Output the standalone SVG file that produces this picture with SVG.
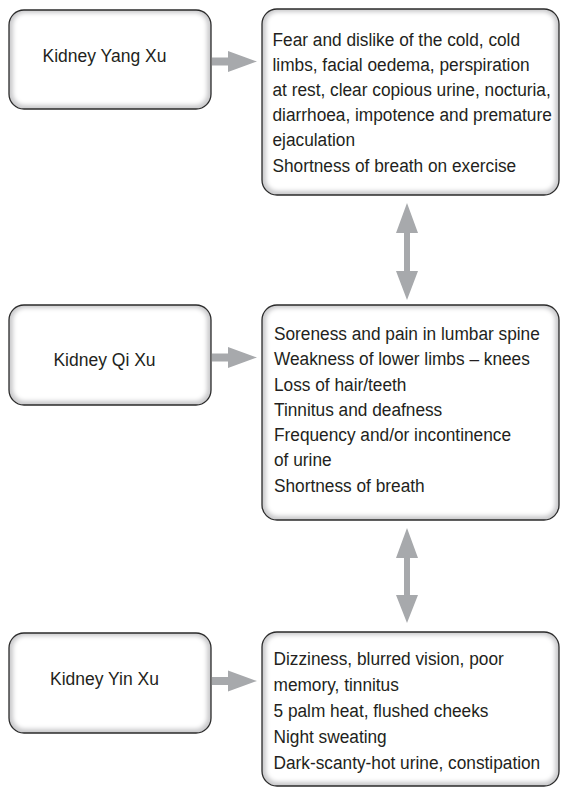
<svg xmlns="http://www.w3.org/2000/svg" width="562" height="790" viewBox="0 0 562 790">
  <defs>
    <filter id="soft" x="-5%" y="-5%" width="110%" height="110%">
      <feGaussianBlur stdDeviation="2"/>
    </filter>
  </defs>
  <style>
    .shade { fill: #c9c9cb; }
    .inner { fill: #ffffff; filter: url(#soft); }
    .edge { fill: none; stroke: #2b2b2b; stroke-width: 1.3; }
    .lbl { font-family: "Liberation Sans", Arial, sans-serif; font-size: 17.5px; fill: #231f20; text-anchor: middle; }
    .txt { font-family: "Liberation Sans", Arial, sans-serif; font-size: 18px; fill: #231f20; }
    .arrow { fill: #a7a9ac; }
  </style>

  <!-- Left column: pattern names -->
  <g id="yang">
    <rect class="shade" x="9" y="10" width="202" height="99" rx="15"/>
    <rect class="inner" x="13" y="13" width="194" height="92" rx="12"/>
    <rect class="edge" x="9" y="10" width="202" height="99" rx="15"/>
    <text class="lbl" x="104.5" y="61.5">Kidney Yang Xu</text>
  </g>
  <g id="qi">
    <rect class="shade" x="9" y="305" width="202" height="100" rx="15"/>
    <rect class="inner" x="13" y="308" width="194" height="93" rx="12"/>
    <rect class="edge" x="9" y="305" width="202" height="100" rx="15"/>
    <text class="lbl" x="104.5" y="366">Kidney Qi Xu</text>
  </g>
  <g id="yin">
    <rect class="shade" x="9" y="633" width="202" height="100" rx="15"/>
    <rect class="inner" x="13" y="636" width="194" height="93" rx="12"/>
    <rect class="edge" x="9" y="633" width="202" height="100" rx="15"/>
    <text class="lbl" x="104.5" y="685">Kidney Yin Xu</text>
  </g>

  <!-- Right column: symptom lists (text slightly condensed horizontally) -->
  <g id="yang-signs">
    <rect class="shade" x="262" y="9" width="297" height="186" rx="15"/>
    <rect class="inner" x="266" y="12" width="289" height="179" rx="12"/>
    <rect class="edge" x="262" y="9" width="297" height="186" rx="15"/>
    <g transform="translate(272.5 0) scale(0.96 1)">
      <text class="txt" x="0" y="45.7">Fear and dislike of the cold, cold</text>
      <text class="txt" x="0" y="70.9">limbs, facial oedema, perspiration</text>
      <text class="txt" x="0" y="96.1">at rest, clear copious urine, nocturia,</text>
      <text class="txt" x="0" y="121.3">diarrhoea, impotence and premature</text>
      <text class="txt" x="0" y="146.5">ejaculation</text>
      <text class="txt" x="0" y="171.7">Shortness of breath on exercise</text>
    </g>
  </g>
  <g id="qi-signs">
    <rect class="shade" x="262" y="305" width="297" height="215" rx="15"/>
    <rect class="inner" x="266" y="308" width="289" height="208" rx="12"/>
    <rect class="edge" x="262" y="305" width="297" height="215" rx="15"/>
    <g transform="translate(274 0) scale(0.96 1)">
      <text class="txt" x="0" y="340">Soreness and pain in lumbar spine</text>
      <text class="txt" x="0" y="365.3">Weakness of lower limbs – knees</text>
      <text class="txt" x="0" y="390.6">Loss of hair/teeth</text>
      <text class="txt" x="0" y="415.9">Tinnitus and deafness</text>
      <text class="txt" x="0" y="441.2">Frequency and/or incontinence</text>
      <text class="txt" x="0" y="466.5">of urine</text>
      <text class="txt" x="0" y="491.8">Shortness of breath</text>
    </g>
  </g>
  <g id="yin-signs">
    <rect class="shade" x="262" y="632" width="297" height="154" rx="15"/>
    <rect class="inner" x="266" y="635" width="289" height="147" rx="12"/>
    <rect class="edge" x="262" y="632" width="297" height="154" rx="15"/>
    <g transform="translate(273.5 0) scale(0.96 1)">
      <text class="txt" x="0" y="665.5">Dizziness, blurred vision, poor</text>
      <text class="txt" x="0" y="691.5">memory, tinnitus</text>
      <text class="txt" x="0" y="717.5">5 palm heat, flushed cheeks</text>
      <text class="txt" x="0" y="743.5">Night sweating</text>
      <text class="txt" x="0" y="769.5">Dark-scanty-hot urine, constipation</text>
    </g>
  </g>

  <!-- Connectors -->
  <g id="connectors">
    <polygon class="arrow" points="212,57.5 228,57.5 228,51 257,61.5 228,72 228,65.5 212,65.5"/>
    <polygon class="arrow" points="212,353.5 228,353.5 228,347 257,357.5 228,368 228,361.5 212,361.5"/>
    <polygon class="arrow" points="212,677 228,677 228,670.5 257,681 228,691.5 228,685 212,685"/>
    <polygon class="arrow" points="407,203 418,233 410,233 410,271 418,271 407,300 396,271 404,271 404,233 396,233"/>
    <polygon class="arrow" points="407,528 418,558 410,558 410,595 418,595 407,623 396,595 404,595 404,558 396,558"/>
  </g>
</svg>
